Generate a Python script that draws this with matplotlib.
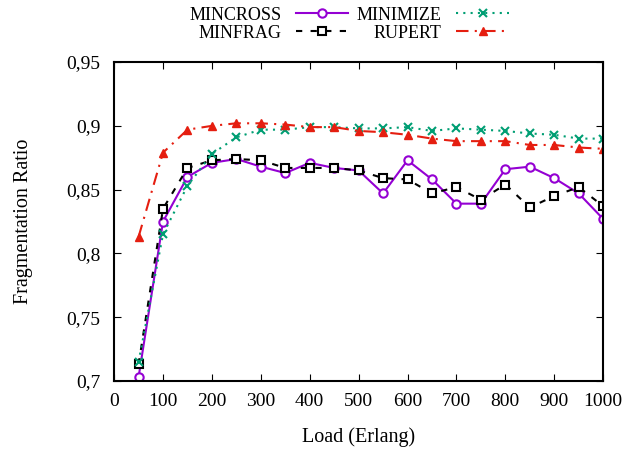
import numpy as np
import matplotlib
matplotlib.use("Agg")
import matplotlib.pyplot as plt
from matplotlib.ticker import FuncFormatter

plt.rcParams['font.family'] = ['Liberation Serif', 'DejaVu Serif']

# carga (Erlang)
load = [50, 100, 150, 200, 250, 300, 350, 400, 450, 500,
        550, 600, 650, 700, 750, 800, 850, 900, 950, 1000]

mincross = [0.703, 0.825, 0.860, 0.871, 0.874, 0.868, 0.863, 0.871, 0.867, 0.865,
            0.847, 0.873, 0.858, 0.839, 0.839, 0.866, 0.868, 0.859, 0.847, 0.827]
minfrag = [0.713, 0.835, 0.867, 0.873, 0.874, 0.873, 0.867, 0.867, 0.867, 0.865,
           0.859, 0.858, 0.847, 0.852, 0.842, 0.854, 0.836, 0.845, 0.852, 0.837]
minimize = [0.715, 0.815, 0.853, 0.878, 0.891, 0.897, 0.897, 0.899, 0.899, 0.898,
            0.898, 0.899, 0.896, 0.898, 0.897, 0.896, 0.894, 0.893, 0.890, 0.890]
rupert = [0.813, 0.879, 0.897, 0.900, 0.902, 0.902, 0.901, 0.899, 0.899, 0.896,
          0.895, 0.893, 0.890, 0.888, 0.888, 0.888, 0.885, 0.885, 0.883, 0.882]

fig = plt.figure(figsize=(6.27, 4.53), dpi=100)
ax = fig.add_axes([0.182, 0.159, 0.780, 0.704])

ax.plot(load, mincross, color='#9400D3', lw=1.5, ls='-', marker='o',
        ms=6, mfc='white', mew=1.5, label='MINCROSS')
ax.plot(load, minfrag, color='black', lw=1.5, ls=(0, (3, 4)), marker='s',
        ms=5.5, mfc='white', mew=1.5, label='MINFRAG')
ax.plot(load, minimize, color='#009E73', lw=1.5, ls=(0, (1, 2.5)), marker='x',
        ms=6, mew=1.5, label='MINIMIZE')
ax.plot(load, rupert, color='#E51E10', lw=1.5, ls=(0, (6, 3, 1, 3)), marker='^',
        ms=6, label='RUPERT')

ax.set_xlim(0, 1000)
ax.set_ylim(0.7, 0.95)
ax.set_xticks(np.arange(0, 1001, 100))
ax.set_yticks([0.7, 0.75, 0.8, 0.85, 0.9, 0.95])
ax.yaxis.set_major_formatter(FuncFormatter(lambda v, p: ('%g' % round(v, 2)).replace('.', ',')))
ax.tick_params(direction='in', top=True, right=True, labelsize=14, length=5)
ax.tick_params(axis='x', pad=9)
ax.tick_params(axis='y', pad=10)
for s in ax.spines.values():
    s.set_linewidth(1.5)

ax.set_xlabel('Load (Erlang)', fontsize=14.5, labelpad=12)
ax.set_ylabel('Fragmentation Ratio', fontsize=14.5, labelpad=24)

ax.legend(ncol=2, loc='lower center', bbox_to_anchor=(0.48, 1.03), frameon=False,
          markerfirst=False, fontsize=13, handlelength=2.9, columnspacing=0.5,
          labelspacing=0.05, borderpad=0.1)

fig.savefig('out.png', dpi=100)
